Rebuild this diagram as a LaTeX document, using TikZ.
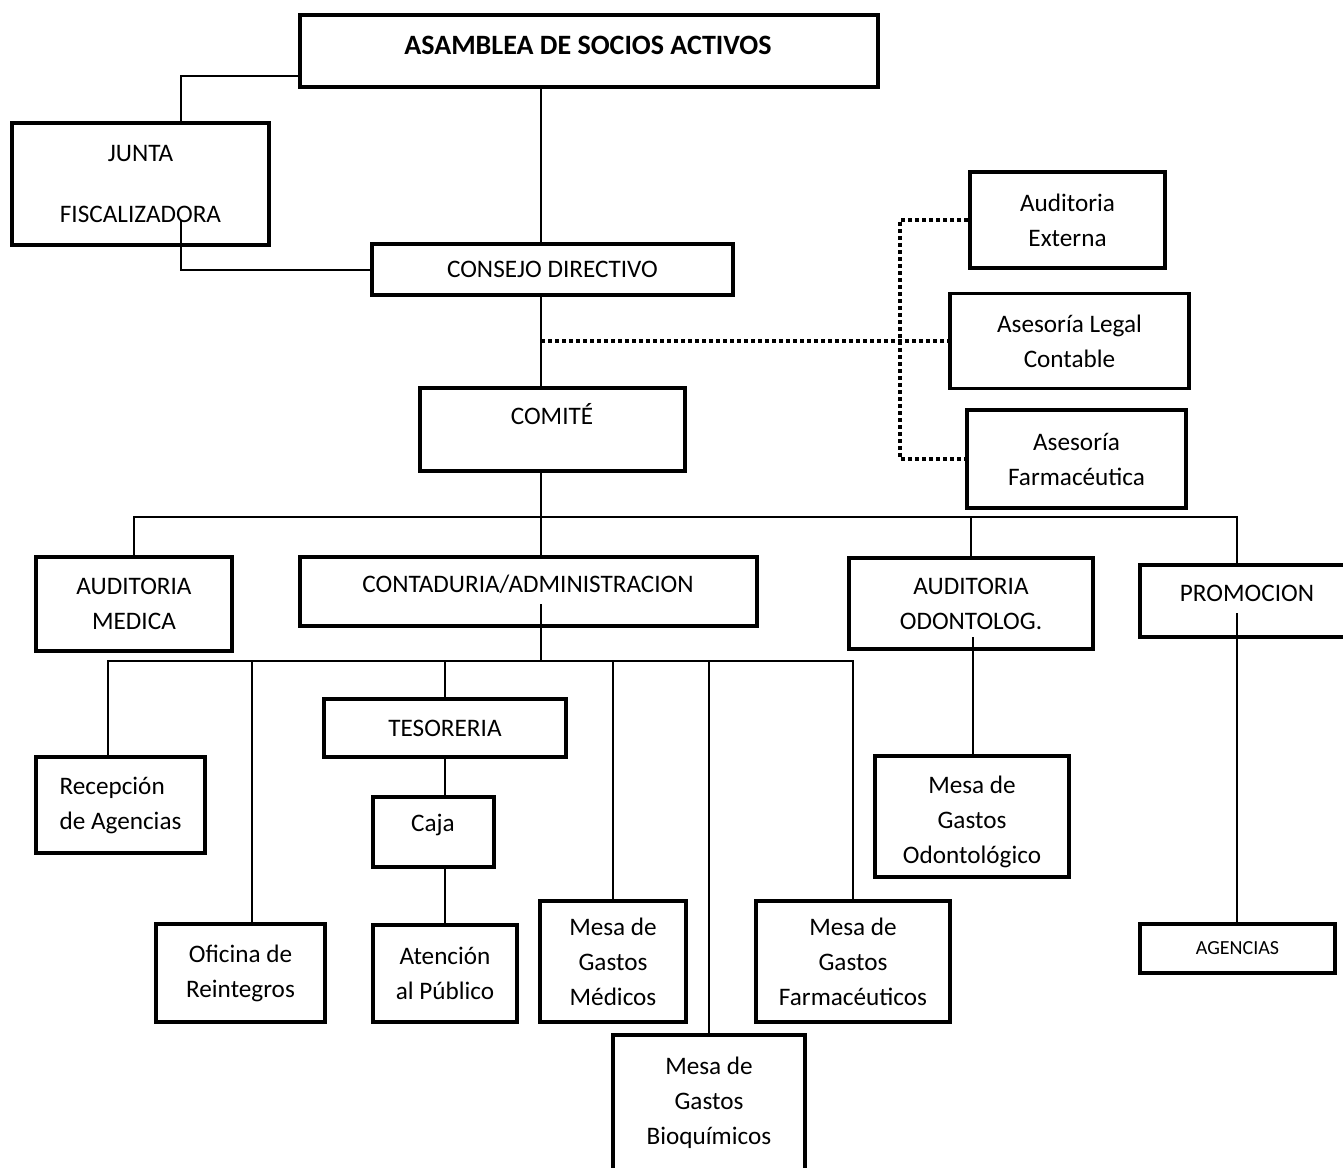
\documentclass[tikz,border=0pt]{standalone}
\usepackage{fontspec}
\setmainfont{Carlito}
\begin{document}
\begin{tikzpicture}[x=0.5pt, y=-0.5pt,
    every node/.style={font=\fontsize{12.6pt}{17.5pt}\selectfont},
    box/.style={draw, line width=1.8pt, fill=white, inner sep=0pt, align=center},
    link/.style={line width=1pt},
    dotlink/.style={line width=2pt, dash pattern=on 2pt off 1.5pt}]
    \useasboundingbox (0,0) rectangle (1343,1167);

    % Top level
    \node[box, line width=2.2pt, minimum width=289pt, minimum height=36pt] (asamblea) at (589,51) {};
    \node[font=\bfseries\fontsize{14pt}{17.5pt}\selectfont] (asambleaT) at (588,45) {ASAMBLEA DE SOCIOS ACTIVOS};
    \node[box, minimum width=128.5pt, minimum height=61pt] (junta) at (140.5,184) {JUNTA\\[13pt]FISCALIZADORA};
    \node[box, minimum width=180.5pt, minimum height=25.5pt] (consejo) at (552.5,269.5) {CONSEJO DIRECTIVO};
    \node[box, minimum width=132.5pt, minimum height=41.5pt] (comite) at (552.5,429.5) {};
    \node (comiteT) at (552,414) {COMITÉ};

    % Advisors
    \node[box, minimum width=97.5pt, minimum height=48pt] (externa) at (1067.5,220) {Auditoria\\Externa};
    \node[box, minimum width=119.5pt, minimum height=47.5pt] (legal) at (1069.5,341) {Asesoría Legal\\Contable};
    \node[box, minimum width=109.5pt, minimum height=49pt] (farma) at (1076.5,459) {Asesoría\\Farmacéutica};

    % Second level
    \node[box, minimum width=98pt, minimum height=47pt] (medica) at (134,604) {AUDITORIA\\MEDICA};
    \node[box, minimum width=228.5pt, minimum height=34.5pt] (contad) at (528.5,591.5) {};
    \node (contadT) at (528,584) {CONTADURIA/ADMINISTRACION};
    \node[box, minimum width=122pt, minimum height=45.5pt] (odonto) at (971,603.5) {AUDITORIA\\ODONTOLOG.};
    \node[box, minimum width=107pt, minimum height=36pt] (promo) at (1247,601) {};
    \node (promoT) at (1247,593) {PROMOCION};

    % Third level
    \node[box, align=left, minimum width=84.5pt, minimum height=48pt] (recep) at (120.5,805) {Recepción\\de Agencias};
    \node[box, minimum width=121pt, minimum height=29pt] (tes) at (445,728) {TESORERIA};
    \node[box, minimum width=60.5pt, minimum height=35pt] (caja) at (433.5,832) {};
    \node (cajaT) at (433,825) {Caja};
    \node[box, minimum width=84.5pt, minimum height=49pt] (oficina) at (240.5,973) {Oficina de\\Reintegros};
    \node[box, minimum width=72pt, minimum height=48.5pt] (aten) at (445,973.5) {Atención\\al Público};
    \node[box, minimum width=73pt, minimum height=60.5pt] (medicos) at (613,961.5) {Mesa de\\Gastos\\Médicos};
    \node[box, minimum width=97pt, minimum height=60.5pt] (farmac) at (853,961.5) {Mesa de\\Gastos\\Farmacéuticos};
    \node[box, minimum width=96pt, minimum height=67.5pt] (bioq) at (709,1102.5) {Mesa de\\Gastos\\Bioquímicos};
    \node[box, minimum width=97pt, minimum height=60.5pt] (modonto) at (972,816.5) {};
    \node[align=center] (modontoT) at (972,822) {Mesa de\\Gastos\\Odontológico};
    \node[box, minimum width=97.5pt, minimum height=24.5pt, font=\fontsize{10pt}{12pt}\selectfont] (agencias) at (1237.5,948.5) {AGENCIAS};

    % Bend points
    \coordinate (jtop) at (181,76);
    \coordinate (jin) at (181,220);
    \coordinate (spine) at (541,0);
    \coordinate (dv) at (900,0);
    \coordinate (bus1) at (0,517);
    \coordinate (pv) at (1237,0);
    \coordinate (pin) at (1237,613);
    \coordinate (oin) at (973,637);
    \coordinate (cin) at (541,604);
    \coordinate (bus2) at (108,661);
    \coordinate (ofv) at (252,0);

    % Connectors, top
    \draw[link] (asamblea.west |- jtop) -- (jtop) -- (jtop |- junta.north);
    \draw[link] (jin) |- (consejo.west);
    \draw[link] (asamblea.south -| spine) -- (consejo.north -| spine);
    \draw[link] (consejo.south -| spine) -- (comite.north -| spine);

    % Advisors (dotted)
    \draw[dotlink] (spine |- legal.west) -- (legal.west);
    \draw[dotlink] (externa.west) -| (dv |- farma.west) -- (farma.west);

    % Connectors, second level
    \draw[link] (medica.north) |- (bus1 -| pv) -- (pv |- promo.north);
    \draw[link] (comite.south -| spine) -- (contad.north -| spine);
    \draw[link] (odonto.north) -- (odonto.north |- bus1);
    \draw[link] (oin) -- (oin |- modonto.north);
    \draw[link] (pin) -- (pin |- agencias.north);

    % Connectors, third level
    \draw[link] (cin) -- (cin |- bus2);
    \draw[link] (recep.north -| bus2) |- (farmac.north |- bus2) -- (farmac.north);
    \draw[link] (ofv |- bus2) -- (ofv |- oficina.north);
    \draw[link] (tes.north) -- (tes.north |- bus2);
    \draw[link] (medicos.north) -- (medicos.north |- bus2);
    \draw[link] (bioq.north) -- (bioq.north |- bus2);
    \draw[link] (tes.south) -- (tes.south |- caja.north);
    \draw[link] (caja.south -| aten.north) -- (aten.north);
\end{tikzpicture}
\end{document}
